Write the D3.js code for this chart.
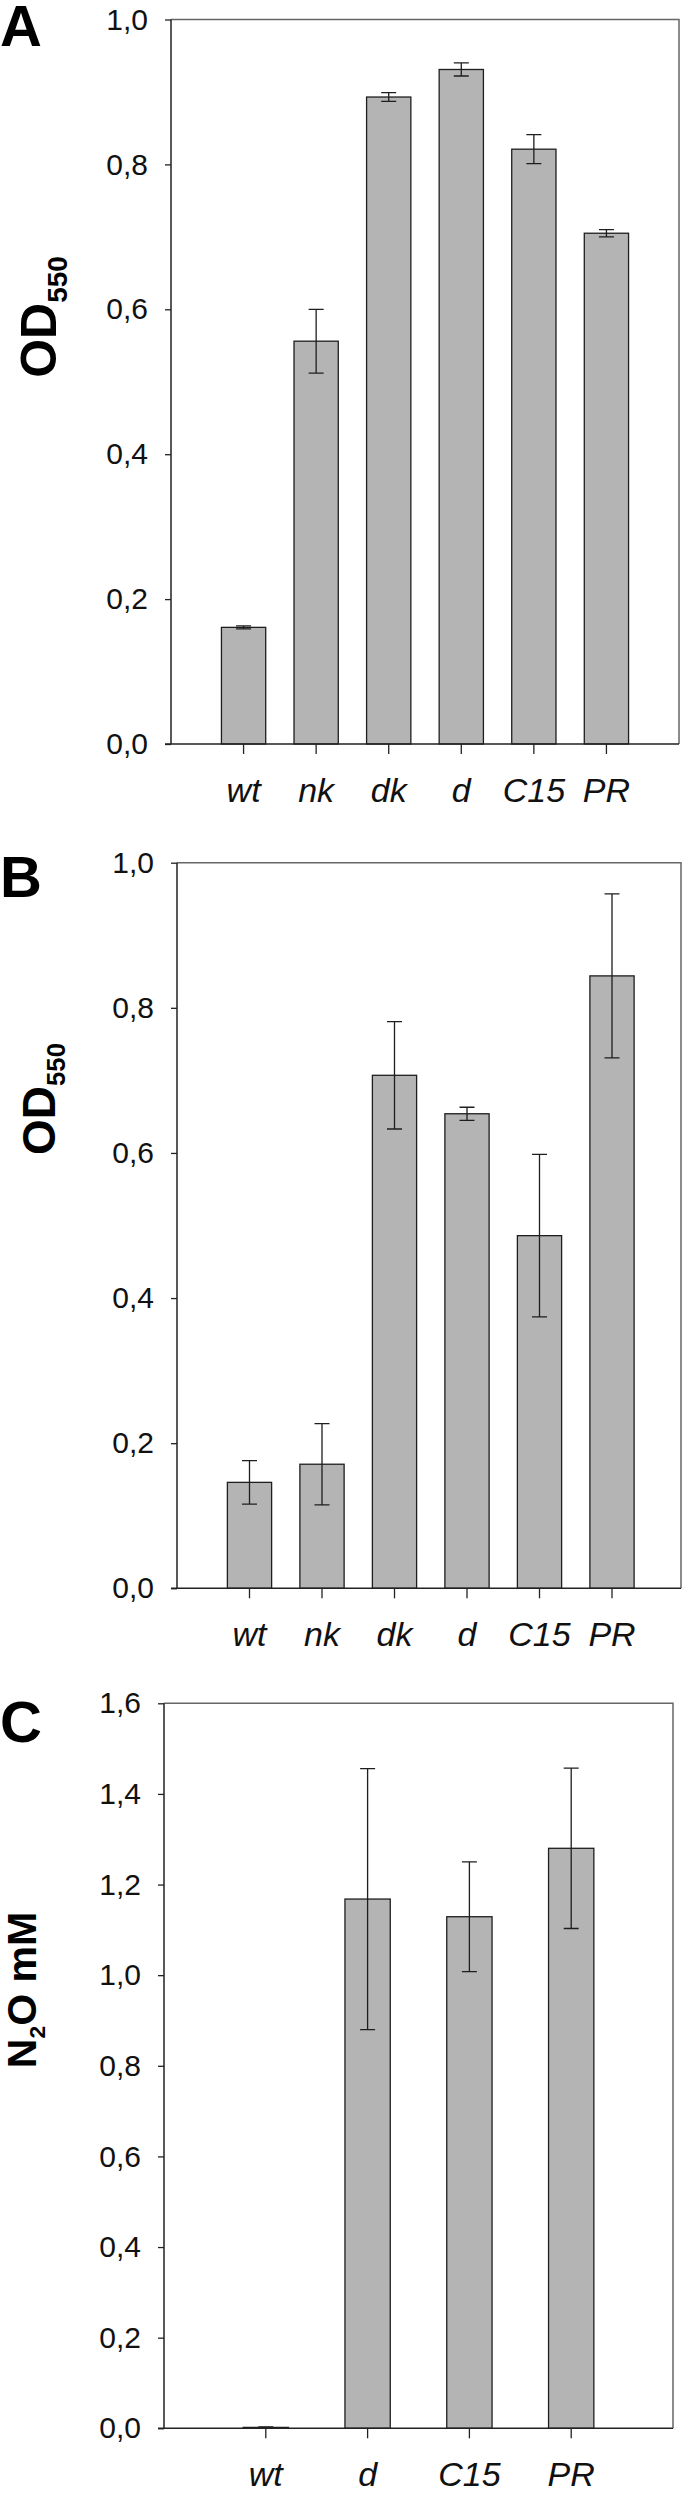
<!DOCTYPE html>
<html>
<head>
<meta charset="utf-8">
<script src="https://cdn.jsdelivr.net/npm/d3@7"></script>
<style>
  body { margin: 0; background: #fff; }
  svg { display: block; font-family: "Liberation Sans", Arial, sans-serif; }
  .bar { fill: #b4b4b4; stroke: #1e1e1e; stroke-width: 1.3; }
  .err { stroke: #1e1e1e; stroke-width: 1.3; fill: none; }
  .frame { stroke: #666; stroke-width: 1.5; fill: none; }
  .axisline { stroke: #222; stroke-width: 1.5; fill: none; }
  .tick line { stroke: #222; stroke-width: 1.3; }
</style>
</head>
<body>
<div id="chart"></div>
<script>
// panel A and B: OD550 per strain, panel C: N2O mM
let catsAB = ["wt", "nk", "dk", "d", "C15", "PR"];
let valsA = [0.161, 0.556, 0.893, 0.931, 0.821, 0.705];
let errA  = [0.002, 0.044, 0.006, 0.009, 0.020, 0.005];
let valsB = [0.146, 0.171, 0.707, 0.654, 0.486, 0.844];
let errB  = [0.030, 0.056, 0.074, 0.009, 0.112, 0.113];
let catsC = ["wt", "d", "C15", "PR"];
let valsC = [0.002, 1.168, 1.129, 1.280];
let errC  = [0.001, 0.288, 0.121, 0.177];
let ticksOD  = [0, 0.2, 0.4, 0.6, 0.8, 1.0];
let ticksN2O = [0, 0.2, 0.4, 0.6, 0.8, 1.0, 1.2, 1.4, 1.6];

let width = 682, height = 2493;

let svg = d3.select("#chart").append("svg")
    .attr("width", width)
    .attr("height", height);

let fmt = function(d) { return d3.format(".1f")(d).replace(".", ","); };

function panel(opt) {
    let cats = opt.cats, vals = opt.vals, errs = opt.errs;
    let data = cats.map(function(c, i) { return {cat: c, v: vals[i], e: errs[i]}; });

    let x = d3.scaleBand()
        .domain(cats)
        .range([opt.left, opt.right])
        .paddingInner(opt.pad)
        .paddingOuter(1 - (1 - opt.pad) / 2);

    let y = d3.scaleLinear()
        .domain([0, opt.max])
        .range([opt.bottom, opt.top]);

    let g = svg.append("g");

    // frame: top + right
    let fr = Math.min(opt.right, width - 1);
    g.append("path")
        .attr("class", "frame")
        .attr("d", "M" + opt.left + "," + opt.top + "H" + fr + "V" + opt.bottom);

    // bars
    g.selectAll(".bar")
        .data(data)
        .enter().append("rect")
        .attr("class", "bar")
        .attr("x", function(d) { return x(d.cat); })
        .attr("width", x.bandwidth())
        .attr("y", function(d) { return y(d.v); })
        .attr("height", function(d) { return y(0) - y(d.v); });

    // error bars
    let cap = 7.5;
    let eb = g.selectAll(".errbar")
        .data(data)
        .enter().append("g")
        .attr("class", "errbar")
        .attr("transform", function(d) { return "translate(" + (x(d.cat) + x.bandwidth() / 2) + ",0)"; });
    eb.append("path")
        .attr("class", "err")
        .attr("d", function(d) {
            let y1 = y(d.v + d.e), y0 = y(Math.max(0, d.v - d.e));
            return "M0," + y1 + "V" + y0 +
                "M" + (-cap) + "," + y1 + "H" + cap +
                "M" + (-cap) + "," + y0 + "H" + cap;
        });

    // y axis
    let ya = g.append("g")
        .attr("transform", "translate(" + opt.left + ",0)")
        .call(d3.axisLeft(y).tickValues(opt.ticks).tickFormat(fmt).tickSize(6).tickPadding(17));
    ya.select(".domain").remove();
    ya.selectAll("text").attr("font-size", 30).attr("fill", "#111");

    // x axis
    let xa = g.append("g")
        .attr("transform", "translate(0," + opt.bottom + ")")
        .call(d3.axisBottom(x).tickSize(10));
    xa.select(".domain").remove();
    xa.selectAll("text")
        .attr("y", 58)
        .attr("dy", 0)
        .attr("font-size", 34)
        .attr("font-style", "italic")
        .attr("fill", "#111");

    // axis lines (left + bottom)
    g.append("path")
        .attr("class", "axisline")
        .attr("d", "M" + opt.left + "," + opt.top + "V" + opt.bottom + "M" + (opt.left - 6) + "," + opt.bottom + "H" + fr);

    // y title
    let t = g.append("text")
        .attr("transform", "translate(" + opt.titleX + "," + opt.titleY + ") rotate(-90)")
        .attr("text-anchor", "middle")
        .attr("font-weight", "bold")
        .attr("font-size", opt.titleSize)
        .attr("fill", "#000");
    opt.title.forEach(function(p) {
        let ts = t.append("tspan").text(p.t);
        if (p.sub) ts.attr("font-size", opt.titleSize * 0.56).attr("dy", opt.titleSize * 0.22);
        if (p.back) ts.attr("dy", -opt.titleSize * 0.22);
    });

    // panel letter
    g.append("text")
        .attr("x", 0)
        .attr("y", opt.letterY)
        .attr("font-weight", "bold")
        .attr("font-size", 58)
        .attr("fill", "#000")
        .text(opt.letter);
}

panel({
    cats: catsAB, vals: valsA, errs: errA, ticks: ticksOD, max: 1.0, pad: 0.39,
    left: 171, right: 679, top: 19.5, bottom: 744,
    letter: "A", letterY: 46,
    title: [{t: "OD"}, {t: "550", sub: true}], titleSize: 50, titleX: 56, titleY: 317
});

panel({
    cats: catsAB, vals: valsB, errs: errB, ticks: ticksOD, max: 1.0, pad: 0.39,
    left: 177, right: 684.5, top: 862.7, bottom: 1588.3,
    letter: "B", letterY: 897,
    title: [{t: "OD"}, {t: "550", sub: true}], titleSize: 46, titleX: 55, titleY: 1099
});

panel({
    cats: catsC, vals: valsC, errs: errC, ticks: ticksN2O, max: 1.6, pad: 0.555,
    left: 164, right: 673, top: 1703.3, bottom: 2428.3,
    letter: "C", letterY: 1742,
    title: [{t: "N"}, {t: "2", sub: true}, {t: "O mM", back: true}], titleSize: 41, titleX: 36, titleY: 1990
});
</script>
</body>
</html>
